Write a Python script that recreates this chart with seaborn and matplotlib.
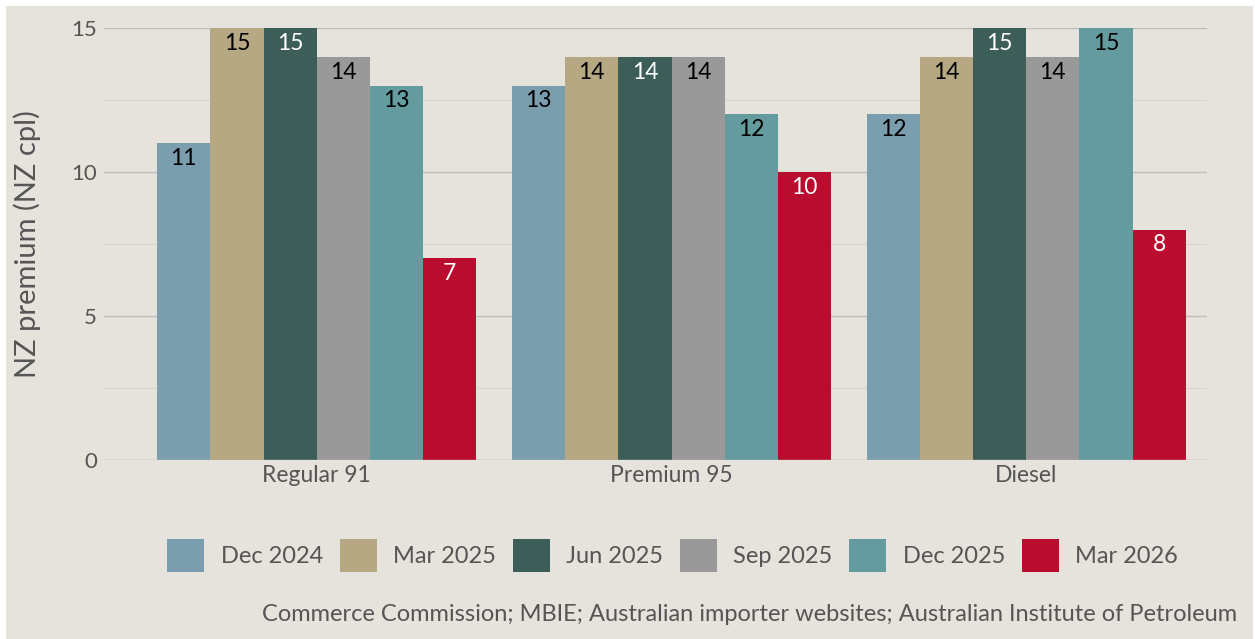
import pandas as pd
import matplotlib.pyplot as plt
import seaborn as sns
from matplotlib.patches import Rectangle

# data
fuels = ['Regular 91', 'Premium 95', 'Diesel']
periods = ['Dec 2024', 'Mar 2025', 'Jun 2025', 'Sep 2025', 'Dec 2025', 'Mar 2026']
dec_2024 = [11, 13, 12]
mar_2025 = [15, 14, 14]
jun_2025 = [15, 14, 15]
sep_2025 = [14, 14, 14]
dec_2025 = [13, 12, 15]
mar_2026 = [7, 10, 8]
series = [dec_2024, mar_2025, jun_2025, sep_2025, dec_2025, mar_2026]

colors = ['#7B9EAE', '#B5A882', '#3D5E58', '#999999', '#639B9E', '#BA0C2F']
label_colors = ['black', 'black', 'white', 'black', 'black', 'white']

rows = []
for p, vals in zip(periods, series):
    for f, v in zip(fuels, vals):
        rows.append({'Fuel': f, 'Period': p, 'Premium': v})
df = pd.DataFrame(rows)

sns.set_style('white')
plt.rcParams['font.family'] = ['Lato', 'DejaVu Sans']
bg = '#E6E3DC'
text_col = '#555555'

fig = plt.figure(figsize=(12.55, 6.39), dpi=100, facecolor='white')
fig.patches.append(Rectangle((6 / 1255, 0), 1247 / 1255, 1 - 6 / 639,
                             transform=fig.transFigure, facecolor=bg,
                             edgecolor='none', zorder=-10))
ax = fig.add_axes([0.0829, 0.2801, 0.8789, 0.6761])
ax.set_facecolor(bg)

sns.barplot(data=df, x='Fuel', y='Premium', hue='Period', order=fuels,
            hue_order=periods, palette=colors, width=0.9, saturation=1,
            linewidth=0, ax=ax, legend=False, zorder=3)

for cont, lc in zip(ax.containers, label_colors):
    texts = ax.bar_label(cont, labels=[f'{int(b.get_height())}' for b in cont],
                         label_type='edge', padding=-11, color=lc,
                         fontsize=16.5)
    for t in texts:
        t.set_va('center')

ax.set_ylim(0, 15)
ax.set_xlim(-0.6, 2.51)
ax.set_yticks([0, 5, 10, 15])
ax.set_yticks([2.5, 7.5, 12.5], minor=True)
ax.grid(axis='y', which='major', color='#BDBDBD', linewidth=1, zorder=0)
ax.grid(axis='y', which='minor', color='#D8D5CE', linewidth=0.8, zorder=0)
ax.axhline(0, color='#BDBDBD', linewidth=1, zorder=4)
for s in ax.spines.values():
    s.set_visible(False)
ax.tick_params(axis='both', length=0, colors=text_col, labelsize=16.5)
ax.tick_params(axis='y', labelsize=16, pad=5)
ax.set_xlabel('')
ax.set_ylabel('NZ premium (NZ cpl)', fontsize=21, color=text_col, labelpad=22)

handles = [Rectangle((0, 0), 1, 1, facecolor=c, edgecolor='none') for c in colors]
fig.legend(handles, periods, loc='center', bbox_to_anchor=(0.536, 0.131),
           ncol=6, frameon=False, fontsize=17, handlelength=1.57,
           handleheight=1.8, handletextpad=0.7, columnspacing=0.7,
           labelcolor=text_col)

fig.text(0.986, 0.038, 'Commerce Commission; MBIE; Australian importer websites; '
         'Australian Institute of Petroleum', ha='right', va='center',
         fontsize=17, color=text_col)

fig.savefig('out.png', dpi=100, facecolor=fig.get_facecolor())
